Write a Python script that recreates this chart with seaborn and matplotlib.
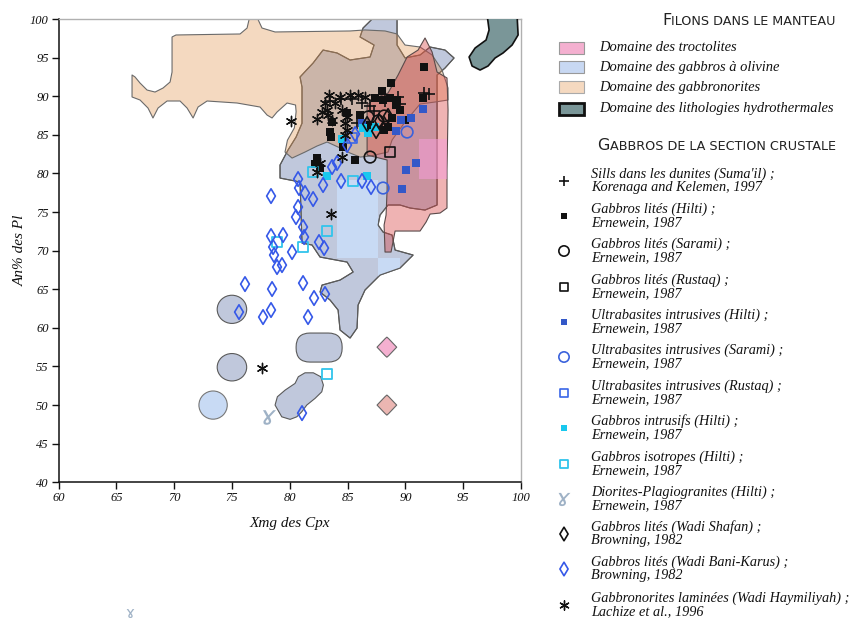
import numpy as np
import pandas as pd
import matplotlib
matplotlib.use("Agg")
import matplotlib.pyplot as plt
import seaborn as sns
from matplotlib.patches import Polygon, Ellipse, FancyBboxPatch, Rectangle

sns.set_theme(style="white")
plt.rcParams['font.family'] = ['Liberation Serif', 'DejaVu Serif']
plt.rcParams['font.style'] = 'italic'
plt.rcParams['mathtext.fontset'] = 'dejavusans'

# ---------------- data: points ----------------
sills_x = [83.49, 84.44, 85.39, 86.26, 86.95, 88.24, 89.37, 89.54, 91.62, 92.06, 85.82, 87.29]
sills_y = [89.38, 89.64, 89.64, 89.12, 88.73, 89.38, 89.90, 88.99, 90.41, 90.28, 86.53, 88.08]

hilti_x = [91.60, 88.75, 87.97, 88.66, 88.06, 87.37, 89.28, 89.54, 89.20, 84.96, 91.53, 88.50, 86.95,
           83.49, 83.57, 84.61, 85.65, 82.36, 82.19, 82.62, 83.66, 86.08, 88.85, 89.97, 88.14]
hilti_y = [93.78, 91.71, 90.67, 89.77, 89.51, 89.77, 89.51, 88.21, 88.86, 87.82, 89.77, 86.01, 86.27,
           85.36, 84.72, 83.42, 81.74, 81.99, 81.22, 80.70, 86.66, 87.56, 87.18, 86.92, 85.62]

sarami_x = [86.95, 86.77, 87.64, 88.16]
sarami_y = [82.12, 87.31, 86.79, 87.44]

rustaq_x = [88.68]
rustaq_y = [82.77]

ub_hilti_x = [91.53, 90.49, 89.63, 89.20, 90.93, 90.06, 89.71, 86.25]
ub_hilti_y = [88.34, 87.18, 86.92, 85.49, 81.35, 80.44, 77.98, 86.53]

ub_sarami_x = [90.15, 88.07]
ub_sarami_y = [85.36, 78.11]

ub_rustaq_x = [85.39]
ub_rustaq_y = [84.59]

intrusifs_x = [83.23, 84.52, 86.69, 86.34, 86.77, 87.38]
intrusifs_y = [79.66, 84.46, 79.66, 85.88, 85.23, 86.01]

isotropes_x = [83.23, 83.23, 82.02, 81.15, 85.48, 78.90]
isotropes_y = [54.02, 72.54, 80.18, 70.47, 79.02, 71.11]

diorites_x = [78.21]
diorites_y = [48.45]

shafan_x = [88.50, 87.73, 87.47, 86.69]
shafan_y = [87.44, 86.79, 85.49, 86.40]

bani_x = [78.38, 80.72, 80.80, 81.32, 82.02, 80.72, 80.54, 81.15, 81.24, 78.38, 79.42, 78.56, 78.64,
          80.20, 78.90, 79.33, 82.53, 82.97, 82.88, 84.44, 86.25, 87.03, 81.15, 78.47, 82.10, 83.05,
          78.38, 77.69, 81.58, 76.13, 75.61, 81.06, 83.66, 84.09, 85.65, 84.96]
bani_y = [77.07, 79.27, 78.11, 77.46, 76.68, 75.65, 74.35, 73.06, 71.76, 71.89, 72.02, 70.47, 69.43,
          69.82, 67.88, 68.13, 71.11, 70.34, 78.50, 79.02, 79.02, 78.24, 65.80, 65.03, 63.86, 64.38,
          62.31, 61.40, 61.40, 65.67, 62.05, 48.96, 80.83, 81.35, 85.10, 83.68]

hay_x = [83.40, 84.35, 85.22, 85.91, 86.51, 83.06, 83.23, 83.31, 83.66, 84.52, 84.96, 84.78, 84.96,
         84.78, 82.36, 80.11, 84.52, 82.62, 82.36, 83.57, 77.60, 83.92, 82.79]
hay_y = [90.16, 89.90, 90.16, 90.16, 89.90, 89.12, 88.21, 87.56, 86.92, 88.21, 87.31, 86.53, 85.62,
         84.97, 87.05, 86.79, 82.12, 81.35, 80.18, 74.74, 54.79, 89.12, 87.95]

# ---------------- data: domains (outline vertices) ----------------
olivine_x = [87.47, 89.28, 89.28, 89.97, 91.27, 92.14, 93.43, 94.21, 93.43, 92.74, 92.74, 91.70, 90.41,
             89.54, 88.50, 87.81, 87.64, 88.07, 88.85, 89.11, 90.67, 89.54, 87.81, 86.51, 85.91, 85.82,
             85.22, 84.35, 84.18, 83.49, 82.62, 82.79, 84.35, 85.48, 84.96, 82.62, 81.93, 81.06, 80.89,
             79.16, 79.16, 79.85, 80.55, 81.06, 81.06, 81.06, 80.89, 82.02, 82.88, 84.09, 85.22, 86.95,
             87.29, 86.08, 86.34]
olivine_y = [100.5, 100.5, 96.63, 94.95, 95.34, 96.37, 95.98, 94.95, 93.65, 92.75, 75.91, 75.26, 75.52,
             75.91, 75.91, 74.61, 73.32, 72.41, 72.02, 70.08, 69.43, 67.75, 66.84, 64.90, 62.95, 59.97,
             58.68, 59.72, 62.31, 63.60, 64.64, 65.54, 66.19, 67.23, 68.52, 69.17, 70.73, 70.98, 78.89,
             79.40, 81.09, 83.03, 84.72, 86.50, 88.50, 91.19, 92.49, 94.30, 95.98, 95.60, 94.69, 95.08,
             96.63, 97.67, 98.83]

gabbronorite_x = [66.36, 66.62, 67.05, 67.66, 68.35, 69.04, 69.65, 69.82, 69.82, 70.16, 75.70, 76.31,
                  76.57, 77.08, 77.60, 78.73, 85.22, 86.51, 88.24, 89.28, 89.97, 91.27, 92.31, 93.17,
                  93.69, 93.69, 92.57, 91.27, 89.97, 88.85, 88.50, 86.95, 86.08, 85.22, 84.18, 83.23,
                  82.36, 81.32, 80.20, 79.59, 79.80, 80.40, 80.55, 80.50, 79.77, 78.90, 78.47, 78.04,
                  77.43, 75.44, 72.85, 72.07, 71.64, 71.12, 70.51, 69.39, 68.61, 68.17, 67.74, 67.05, 66.36]
gabbronorite_y = [92.75, 92.49, 91.71, 90.80, 90.54, 91.06, 91.84, 93.13, 97.67, 97.93, 98.06, 98.83,
                  100.5, 100.5, 98.83, 98.32, 98.45, 98.58, 98.45, 98.06, 96.63, 96.37, 95.34, 93.39,
                  91.06, 89.51, 89.25, 88.99, 86.66, 84.33, 82.77, 82.25, 82.12, 82.64, 83.42, 84.07,
                  83.55, 82.77, 81.99, 82.77, 84.30, 85.90, 88.00, 88.86, 89.12, 87.95, 87.18, 87.56,
                  88.60, 89.12, 89.38, 88.60, 87.18, 88.47, 89.38, 89.38, 88.47, 87.18, 88.47, 89.51, 89.90]

troctolite_x = [91.70, 92.31, 92.74, 93.60, 93.69, 93.60, 93.60, 93.00, 92.14, 91.79, 91.27, 89.11,
                88.76, 88.24, 88.16, 88.33, 88.42, 88.42, 86.69, 86.69, 87.38, 88.50, 89.37, 90.15, 91.10]
troctolite_y = [97.54, 95.73, 93.13, 92.36, 88.21, 80.44, 75.52, 74.87, 74.74, 73.70, 72.54, 72.54,
                69.82, 69.82, 73.32, 74.61, 77.85, 81.74, 82.38, 88.86, 89.77, 90.41, 92.75, 95.08, 95.98]

hydro_x = [97.07, 99.66, 99.75, 99.23, 98.45, 97.76, 97.15, 96.46, 95.77, 95.51, 96.03, 96.98, 97.24]
hydro_y = [100.5, 100.5, 97.93, 96.63, 95.60, 94.95, 93.91, 93.39, 93.91, 95.08, 96.24, 97.28, 98.58]

peanut_x = [78.73, 78.93, 79.60, 80.46, 80.74, 81.32, 82.04, 82.68, 82.91, 82.77, 82.19, 81.47,
            81.04, 80.61, 80.03, 79.31]
peanut_y = [50.00, 51.08, 51.94, 52.81, 53.67, 54.18, 54.18, 53.67, 52.59, 51.72, 50.87, 50.00,
            49.13, 48.48, 48.15, 48.48]

blob_cx = [75.0, 75.0, 73.37]
blob_cy = [62.4, 54.9, 50.0]
blob_w = [2.55, 2.55, 2.45]
blob_h = [3.65, 3.55, 3.65]
blob_light = [False, False, True]

stadium_box = [80.55, 55.57, 84.53, 59.33]   # x0, y0, x1, y1
diamond_cx = [88.4, 88.4]
diamond_cy = [57.5, 50.0]

tile_blue = [[84.09, 69.04, 87.64, 79.15], [87.64, 64.90, 89.54, 69.04]]
tile_pink = [91.19, 79.27, 93.60, 84.46]

xticks = list(range(60, 101, 5))
yticks = list(range(40, 101, 5))

# ---------------- colours ----------------
C_BLUEGRAY = '#c0c8dc'
C_LIGHTBLUE = '#c8daf4'
C_PEACH_OVER = (226 / 255, 146 / 255, 75 / 255, 0.35)
C_TROC_OVER = (217 / 255, 67 / 255, 67 / 255, 0.40)
C_TEAL = '#7a9698'
EDGE = '#5a5a5a'

# ---------------- figure ----------------
fig = plt.figure(figsize=(8.57, 6.21), dpi=100)
fig.patch.set_facecolor('white')

lax = fig.add_axes([0, 0, 1, 1])
lax.set_xlim(0, 857)
lax.set_ylim(621, 0)
lax.axis('off')

ax = fig.add_axes([58.5 / 857, 1 - 482.3 / 621, 462.5 / 857, 463.3 / 621])
ax.set_facecolor('white')

# domains
ol_patch = Polygon(np.column_stack([olivine_x, olivine_y]), closed=True, fc=C_BLUEGRAY,
                   ec=EDGE, lw=0.8, zorder=1, joinstyle='round')
ax.add_patch(ol_patch)
for t in tile_blue:
    r = Rectangle((t[0], t[1]), t[2] - t[0], t[3] - t[1], fc=C_LIGHTBLUE, ec='none', zorder=1.1)
    ax.add_patch(r)
    r.set_clip_path(ol_patch)
ax.add_patch(Polygon(np.column_stack([olivine_x, olivine_y]), closed=True, fc='none',
                     ec=EDGE, lw=0.8, zorder=1.2))

for cx, cy, w, h, light in zip(blob_cx, blob_cy, blob_w, blob_h, blob_light):
    ax.add_patch(Ellipse((cx, cy), w, h, fc=C_LIGHTBLUE if light else C_BLUEGRAY,
                         ec='#777777' if light else EDGE, lw=0.8, zorder=1))
aspect = (1 / 7.72) / (1 / 11.56)
st = FancyBboxPatch((stadium_box[0], stadium_box[1]), stadium_box[2] - stadium_box[0],
                    stadium_box[3] - stadium_box[1],
                    boxstyle="round,pad=0,rounding_size=1.2", mutation_aspect=aspect,
                    fc=C_BLUEGRAY, ec=EDGE, lw=0.8, zorder=1)
ax.add_patch(st)
ax.add_patch(Polygon(np.column_stack([peanut_x, peanut_y]), closed=True, fc=C_BLUEGRAY,
                     ec=EDGE, lw=0.8, zorder=1, joinstyle='round'))

ax.add_patch(Polygon(np.column_stack([gabbronorite_x, gabbronorite_y]), closed=True,
                     fc=C_PEACH_OVER, ec='#6a6a6a', lw=0.8, zorder=2, joinstyle='round'))
tr_patch = Polygon(np.column_stack([troctolite_x, troctolite_y]), closed=True,
                   fc=C_TROC_OVER, ec='#5a4a4a', lw=0.8, zorder=3, joinstyle='round')
ax.add_patch(tr_patch)
pk = Rectangle((tile_pink[0], tile_pink[1]), tile_pink[2] - tile_pink[0], tile_pink[3] - tile_pink[1],
               fc=(0.96, 0.62, 0.85, 0.55), ec='none', zorder=3.1)
ax.add_patch(pk)
pk.set_clip_path(tr_patch)

dx, dy = 0.85, 1.3
for cx, cy, col in zip(diamond_cx, diamond_cy, ['#f4b0d0', '#ebb6b2']):
    pts = [(cx - dx, cy), (cx - 0.15, cy + dy * 0.85), (cx, cy + dy), (cx + 0.15, cy + dy * 0.85),
           (cx + dx, cy), (cx + 0.15, cy - dy * 0.85), (cx, cy - dy), (cx - 0.15, cy - dy * 0.85)]
    ax.add_patch(Polygon(pts, closed=True, fc=col, ec='#666666', lw=0.8, zorder=2, joinstyle='round'))

ax.add_patch(Polygon(np.column_stack([hydro_x, hydro_y]), closed=True, fc=C_TEAL,
                     ec='#111111', lw=1.2, zorder=3, joinstyle='round'))

# ---------------- series ----------------
series = [
    dict(x=sills_x, y=sills_y, marker='+', s=80, c='#111111', fc=None, lw=1.2, ls=60,
         lab=("Sills dans les dunites (Suma'il) ;", "Korenaga and Kelemen, 1997")),
    dict(x=hilti_x, y=hilti_y, marker='s', s=30, c='#111111', fc='#111111', lw=0, ls=22,
         lab=("Gabbros lités (Hilti) ;", "Ernewein, 1987")),
    dict(x=sarami_x, y=sarami_y, marker='o', s=70, c='#111111', fc='none', lw=1.2, ls=55,
         lab=("Gabbros lités (Sarami) ;", "Ernewein, 1987")),
    dict(x=rustaq_x, y=rustaq_y, marker='s', s=48, c='#111111', fc='none', lw=1.2, ls=40,
         lab=("Gabbros lités (Rustaq) ;", "Ernewein, 1987")),
    dict(x=ub_hilti_x, y=ub_hilti_y, marker='s', s=30, c='#3358c8', fc='#3358c8', lw=0, ls=22,
         lab=("Ultrabasites intrusives (Hilti) ;", "Ernewein, 1987")),
    dict(x=ub_sarami_x, y=ub_sarami_y, marker='o', s=70, c='#3a62dc', fc='none', lw=1.2, ls=55,
         lab=("Ultrabasites intrusives (Sarami) ;", "Ernewein, 1987")),
    dict(x=ub_rustaq_x, y=ub_rustaq_y, marker='s', s=48, c='#3a66e8', fc='none', lw=1.2, ls=40,
         lab=("Ultrabasites intrusives (Rustaq) ;", "Ernewein, 1987")),
    dict(x=intrusifs_x, y=intrusifs_y, marker='s', s=30, c='#18c8ee', fc='#18c8ee', lw=0, ls=22,
         lab=("Gabbros intrusifs (Hilti) ;", "Ernewein, 1987")),
    dict(x=isotropes_x, y=isotropes_y, marker='s', s=48, c='#30c4ec', fc='none', lw=1.3, ls=40,
         lab=("Gabbros isotropes (Hilti) ;", "Ernewein, 1987")),
    dict(x=diorites_x, y=diorites_y, marker='$ɤ$', s=110, c='#9fb2c6', fc='#9fb2c6', lw=0, ls=90,
         lab=("Diorites-Plagiogranites (Hilti) ;", "Ernewein, 1987")),
    dict(x=shafan_x, y=shafan_y, marker='d', s=55, c='#111111', fc='none', lw=1.2, ls=48,
         lab=("Gabbros lités (Wadi Shafan) ;", "Browning, 1982")),
    dict(x=bani_x, y=bani_y, marker='d', s=55, c='#3558e8', fc='none', lw=1.2, ls=48,
         lab=("Gabbros lités (Wadi Bani-Karus) ;", "Browning, 1982")),
    dict(x=hay_x, y=hay_y, marker=(6, 2, 0), s=55, c='#111111', fc=None, lw=1.0, ls=45,
         lab=("Gabbronorites laminées (Wadi Haymiliyah) ;", "Lachize et al., 1996")),
]

for sp in series:
    df = pd.DataFrame({'x': sp['x'], 'y': sp['y']})
    kw = dict(marker=sp['marker'], s=sp['s'], color=sp['c'], linewidth=sp['lw'], zorder=5,
              legend=False)
    if sp['fc'] is not None:
        kw['facecolor'] = sp['fc']
        kw['edgecolor'] = sp['c']
    sns.scatterplot(data=df, x='x', y='y', ax=ax, **kw)

# ---------------- axes styling ----------------
ax.set_xlim(60, 100)
ax.set_ylim(40, 100)
ax.set_xticks(xticks)
ax.set_yticks(yticks)
ax.tick_params(axis='both', which='both', direction='out', length=5, width=1, colors='#111111',
               labelsize=9, pad=2, bottom=True, left=True, top=False, right=False)
for lbl in ax.get_xticklabels() + ax.get_yticklabels():
    lbl.set_fontstyle('italic')
for side in ['left', 'bottom']:
    ax.spines[side].set_color('#111111')
    ax.spines[side].set_linewidth(1.1)
for side in ['top', 'right']:
    ax.spines[side].set_color('#b0b0b0')
    ax.spines[side].set_linewidth(1.0)
ax.set_xlabel('Xmg des Cpx', fontsize=11, labelpad=9, color='#111111')
ax.set_ylabel('An% des Pl', fontsize=11, labelpad=2, color='#111111')

# ---------------- legend ----------------
renderer = fig.canvas.get_renderer()


def smallcaps(first, rest, x_right, y_base):
    t2 = lax.text(x_right, y_base, rest, ha='right', va='baseline', fontsize=9.2,
                  family=['DejaVu Sans'], style='normal', color='#222222')
    w = t2.get_window_extent(renderer=renderer).width
    lax.text(x_right - w, y_base, first, ha='right', va='baseline', fontsize=11.5,
             family=['DejaVu Sans'], style='normal', color='#222222')


smallcaps('F', 'ILONS DANS LE MANTEAU', 836, 25)
smallcaps('G', 'ABBROS DE LA SECTION CRUSTALE', 836, 150)

domain_labels = ['Domaine des troctolites', 'Domaine des gabbros à olivine',
                 'Domaine des gabbronorites', 'Domaine des lithologies hydrothermales']
domain_fc = ['#f4b0d0', '#c8d8f2', '#f5d9c0', C_TEAL]
domain_ec = ['#999999', '#999999', '#aaaaaa', '#111111']
domain_lw = [0.8, 0.8, 0.8, 2.0]
domain_yc = [47.5, 67, 87, 108.5]
for lab, fc, ec, lw, yc in zip(domain_labels, domain_fc, domain_ec, domain_lw, domain_yc):
    lax.add_patch(Rectangle((559, yc - 6), 25, 12, fc=fc, ec=ec, lw=lw))
    lax.text(599, yc, lab, ha='left', va='center', fontsize=10.45, color='#111111')

leg_y = [181, 216, 251, 287, 322, 357, 393, 428, 464, 499, 534, 569, 605]
for sp, yc in zip(series, leg_y):
    kw = dict(marker=sp['marker'], s=sp['ls'], linewidths=sp['lw'])
    if sp['fc'] is None:
        kw['color'] = sp['c']
    else:
        kw['facecolors'] = sp['fc']
        kw['edgecolors'] = sp['c']
    lax.scatter([564], [yc], **kw)
    lax.text(591, yc - 6.5, sp['lab'][0], ha='left', va='center', fontsize=10.3, color='#111111')
    lax.text(591, yc + 6.5, sp['lab'][1], ha='left', va='center', fontsize=10.3, color='#111111')

lax.text(130, 613, 'ɤ', ha='center', va='center', fontsize=11, color='#9fb2c6',
         family=['DejaVu Sans'], style='normal')

fig.savefig('out.png', dpi=100)
